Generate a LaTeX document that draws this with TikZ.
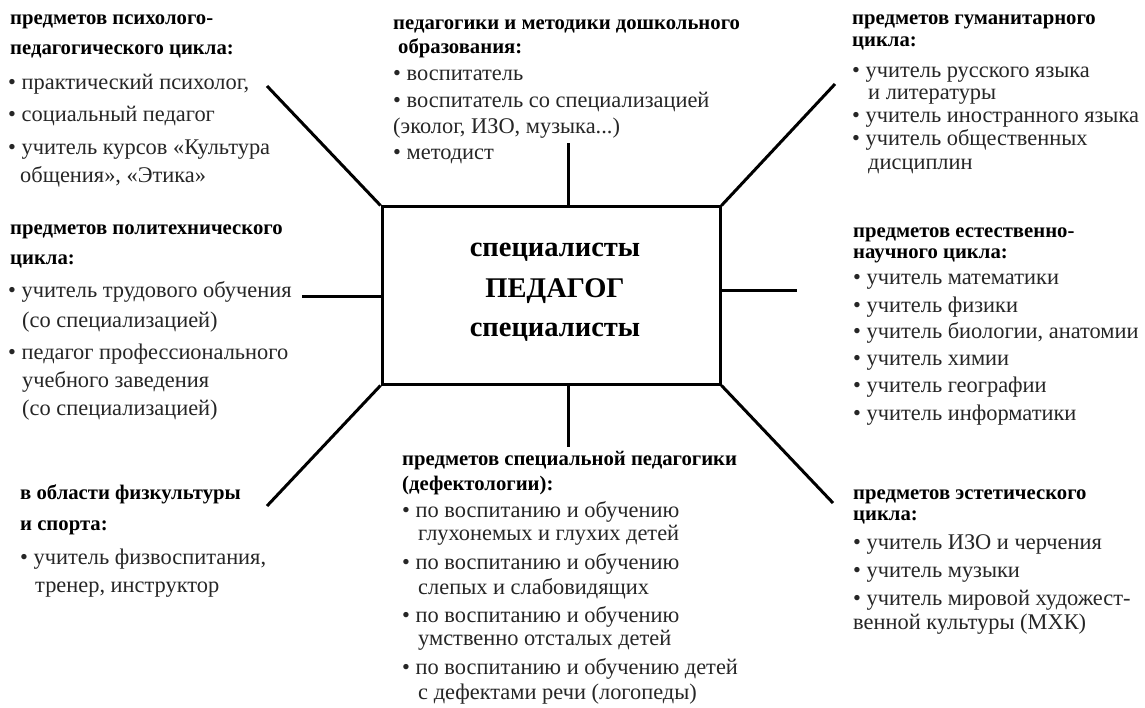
\documentclass[tikz,border=0pt]{standalone}
\usepackage{fontspec}
\setmainfont{Liberation Serif}
\begin{document}
\begin{tikzpicture}[x=1pt,y=-1pt,
  line/.style={anchor=west,inner sep=0pt,text height=0.7em,text depth=0.2em,font=\fontsize{22.4}{25}\selectfont,text=black!85},
  head/.style={line,font=\fontsize{20.7}{24}\selectfont\bfseries,text=black},
  ctext/.style={inner sep=0pt,font=\fontsize{28.5}{32}\selectfont\bfseries},
  conn/.style={line width=3pt}]
\useasboundingbox[fill=white] (0,0) rectangle (1145,708);
% central box
\node[draw,line width=3pt,minimum width=338pt,minimum height=177pt,inner sep=0pt] (box) at (551,295.5) {};
\node[ctext] (c1) at (555,252) {специалисты};
\node[ctext] (c2) at (555,291) {ПЕДАГОГ};
\node[ctext] (c3) at (555,332) {специалисты};
% connector ends
\coordinate (eTL) at (267,86);
\coordinate (eT) at (568,143);
\coordinate (eTR) at (835,84);
\coordinate (eL) at (302,297);
\coordinate (eR) at (797,291);
\coordinate (eBL) at (267,506);
\coordinate (eB) at (568,447);
\coordinate (eBR) at (833,503);
\draw[conn] (box.north west) -- (eTL);
\draw[conn] (eT |- box.north) -- (eT);
\draw[conn] (box.north east) -- (eTR);
\draw[conn] (eL -| box.west) -- (eL);
\draw[conn] (eR -| box.east) -- (eR);
\draw[conn] (box.south west) -- (eBL);
\draw[conn] (eB |- box.south) -- (eB);
\draw[conn] (box.south east) -- (eBR);
% top-left
\node[head] (tl1) at (10,22) {предметов психолого-};
\node[head] (tl2) at (10,52) {педагогического цикла:};
\node[line] (tl3) at (8,87) {• практический психолог,};
\node[line] (tl4) at (8,119) {• социальный педагог};
\node[line] (tl5) at (8,152) {• учитель курсов «Культура};
\node[line] (tl6) at (20,180) {общения», «Этика»};
% top-middle
\node[head] (tm1) at (393,27) {педагогики и методики дошкольного};
\node[head] (tm2) at (398,51) {образования:};
\node[line] (tm3) at (393,78) {• воспитатель};
\node[line] (tm4) at (393,105) {• воспитатель со специализацией};
\node[line] (tm5) at (393,131) {(эколог, ИЗО, музыка...)};
\node[line] (tm6) at (393,157) {• методист};
% top-right
\node[head] (tr1) at (852,22) {предметов гуманитарного};
\node[head] (tr2) at (852,44) {цикла:};
\node[line] (tr3) at (852,75) {• учитель русского языка};
\node[line] (tr4) at (868,97) {и литературы};
\node[line] (tr5) at (852,120) {• учитель иностранного языка};
\node[line] (tr6) at (852,143) {• учитель общественных};
\node[line] (tr7) at (868,167) {дисциплин};
% left-middle
\node[head] (lm1) at (10,232) {предметов политехнического};
\node[head] (lm2) at (10,262) {цикла:};
\node[line] (lm3) at (8,295) {• учитель трудового обучения};
\node[line] (lm4) at (22,325) {(со специализацией)};
\node[line] (lm5) at (8,357) {• педагог профессионального};
\node[line] (lm6) at (22,385) {учебного заведения};
\node[line] (lm7) at (22,413) {(со специализацией)};
% right-middle
\node[head] (rm1) at (853,235) {предметов естественно-};
\node[head] (rm2) at (853,256) {научного цикла:};
\node[line] (rm3) at (853,282) {• учитель математики};
\node[line] (rm4) at (853,310) {• учитель физики};
\node[line] (rm5) at (853,336) {• учитель биологии, анатомии};
\node[line] (rm6) at (853,363) {• учитель химии};
\node[line] (rm7) at (853,390) {• учитель географии};
\node[line] (rm8) at (853,418) {• учитель информатики};
% bottom-left
\node[head] (bl1) at (20,497) {в области физкультуры};
\node[head] (bl2) at (20,528) {и спорта:};
\node[line] (bl3) at (20,562) {• учитель физвоспитания,};
\node[line] (bl4) at (35,590) {тренер, инструктор};
% bottom-middle
\node[head] (bm1) at (402,463) {предметов специальной педагогики};
\node[head] (bm2) at (402,488) {(дефектологии):};
\node[line] (bm3) at (402,515) {• по воспитанию и обучению};
\node[line] (bm4) at (418,538) {глухонемых и глухих детей};
\node[line] (bm5) at (402,567) {• по воспитанию и обучению};
\node[line] (bm6) at (418,592) {слепых и слабовидящих};
\node[line] (bm7) at (402,620) {• по воспитанию и обучению};
\node[line] (bm8) at (418,643) {умственно отсталых детей};
\node[line] (bm9) at (402,672) {• по воспитанию и обучению детей};
\node[line] (bm10) at (418,697) {с дефектами речи (логопеды)};
% bottom-right
\node[head] (br1) at (853,497) {предметов эстетического};
\node[head] (br2) at (853,518) {цикла:};
\node[line] (br3) at (853,547) {• учитель ИЗО и черчения};
\node[line] (br4) at (853,575) {• учитель музыки};
\node[line] (br5) at (853,603) {• учитель мировой художест-};
\node[line] (br6) at (853,627) {венной культуры (МХК)};
\end{tikzpicture}
\end{document}
